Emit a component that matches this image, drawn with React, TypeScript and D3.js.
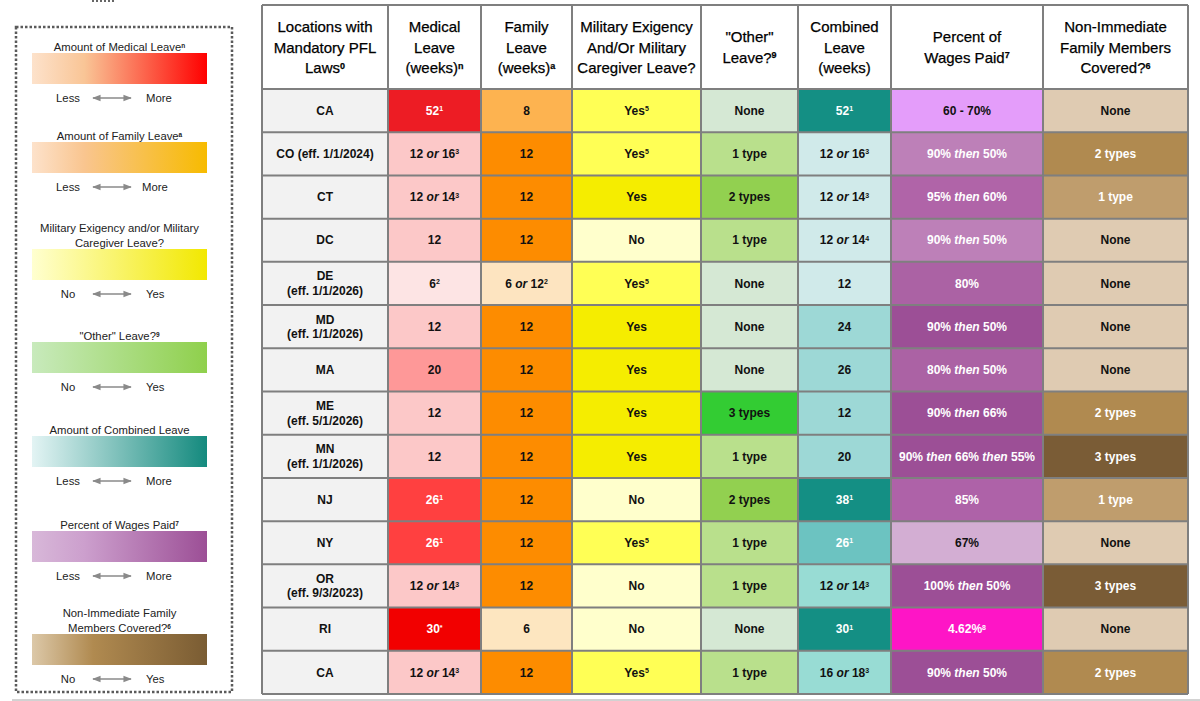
import React from "react";
import * as d3 from "d3";

// ---------- DATA ----------
const locations = [
  "CA", "CO (eff. 1/1/2024)", "CT", "DC", "DE|(eff. 1/1/2026)", "MD|(eff. 1/1/2026)", "MA",
  "ME|(eff. 5/1/2026)", "MN|(eff. 1/1/2026)", "NJ", "NY", "OR|(eff. 9/3/2023)", "RI", "CA",
];
const medicalLeave = [
  "52^1", "12 _or_ 16^3", "12 _or_ 14^3", "12", "6^2", "12", "20", "12", "12", "26^1", "26^1",
  "12 _or_ 14^3", "30^*", "12 _or_ 14^3",
];
const familyLeave = ["8", "12", "12", "12", "6 _or_ 12^2", "12", "12", "12", "12", "12", "12", "12", "6", "12"];
const militaryLeave = ["Yes^5", "Yes^5", "Yes", "No", "Yes^5", "Yes", "Yes", "Yes", "Yes", "No", "Yes^5", "No", "No", "Yes^5"];
const otherLeave = ["None", "1 type", "2 types", "1 type", "None", "None", "None", "3 types", "1 type", "2 types", "1 type", "1 type", "None", "1 type"];
const combinedLeave = [
  "52^1", "12 _or_ 16^3", "12 _or_ 14^3", "12 _or_ 14^4", "12", "24", "26", "12", "20", "38^1", "26^1",
  "12 _or_ 14^3", "30^1", "16 _or_ 18^3",
];
const wagesPaid = [
  "60 - 70%", "90% _then_ 50%", "95% _then_ 60%", "90% _then_ 50%", "80%", "90% _then_ 50%", "80% _then_ 50%",
  "90% _then_ 66%", "90% _then_ 66% _then_ 55%", "85%", "67%", "100% _then_ 50%", "4.62%^8", "90% _then_ 50%",
];
const nonImmediate = ["None", "2 types", "1 type", "None", "None", "None", "None", "2 types", "3 types", "1 type", "None", "3 types", "None", "2 types"];

const headerLabels = [
  ["Locations with", "Mandatory PFL", "Laws^0"],
  ["Medical", "Leave", "(weeks)^n"],
  ["Family", "Leave", "(weeks)^a"],
  ["Military Exigency", "And/Or Military", "Caregiver Leave?"],
  ["\"Other\"", "Leave?^9"],
  ["Combined", "Leave", "(weeks)"],
  ["Percent of", "Wages Paid^7"],
  ["Non-Immediate", "Family Members", "Covered?^6"],
];

// ---------- STYLES ----------
const medicalFill = ["#ed1c24", "#fcc8c8", "#fcc8c8", "#fcc8c8", "#fde4e4", "#fcc8c8", "#fe9898", "#fcc8c8", "#fcc8c8", "#ff4040", "#ff4040", "#fcc8c8", "#f20000", "#fcc8c8"];
const familyFill = ["#fdb350", "#fd8c00", "#fd8c00", "#fd8c00", "#fde4c0", "#fd8c00", "#fd8c00", "#fd8c00", "#fd8c00", "#fd8c00", "#fd8c00", "#fd8c00", "#fde6c0", "#fd8c00"];
const combinedFill = ["#148f84", "#d0eaea", "#d0eaea", "#d0eaea", "#d0eaea", "#9dd8d6", "#9dd8d6", "#9dd8d6", "#9dd8d6", "#148f84", "#6cc3c1", "#98dcd4", "#148f84", "#98dcd4"];
const wagesFill = ["#e49dfa", "#bd80b8", "#b064a8", "#bd80b8", "#ab62a4", "#9c4f96", "#ab62a4", "#9c4f96", "#9c4f96", "#ae62a8", "#d3aed3", "#9c4f96", "#fe15c6", "#9c4f96"];
const militaryColor = d3.scaleOrdinal<string, string>().domain(["Yes^5", "Yes", "No"]).range(["#ffff55", "#f5ed00", "#ffffcc"]);
const otherColor = d3.scaleOrdinal<string, string>().domain(["None", "1 type", "2 types", "3 types"]).range(["#d5e8d4", "#b9e08c", "#92d050", "#33cc33"]);
const nonImmColor = d3.scaleOrdinal<string, string>().domain(["None", "1 type", "2 types", "3 types"]).range(["#dfcbb2", "#bf9d6d", "#b08a50", "#7a5c36"]);
const whiteInk = new Set(["#ed1c24", "#ff4040", "#f20000", "#148f84", "#6cc3c1", "#bd80b8", "#b064a8", "#ab62a4", "#9c4f96", "#ae62a8", "#fe15c6", "#bf9d6d", "#b08a50", "#7a5c36"]);

const FONT = "'Liberation Sans', Arial, Helvetica, sans-serif";
const colEdges = [262, 388, 481, 572, 701, 798, 891, 1043, 1188];
const tableTop = 5;
const headerBottom = 89;
const tableBottom = 694;
const GRID = "#7f7f7f";

const legendItems = [
  { title: ["Amount of Medical Leave^n"], left: "Less", right: "More", stops: [[0, "#fde2cb"], [0.3, "#f9c596"], [1, "#ff0000"]] },
  { title: ["Amount of Family Leave^a"], left: "Less", right: "More", stops: [[0, "#fde2cb"], [0.3, "#f9c58f"], [1, "#f7bb00"]] },
  { title: ["Military Exigency and/or Military", "Caregiver Leave?"], left: "No", right: "Yes", stops: [[0, "#ffffd0"], [1, "#f2e800"]] },
  { title: ["\"Other\" Leave?^9"], left: "No", right: "Yes", stops: [[0, "#c8eabc"], [1, "#8fd04c"]] },
  { title: ["Amount of Combined Leave"], left: "Less", right: "More", stops: [[0, "#e3f4f4"], [1, "#148a7e"]] },
  { title: ["Percent of Wages Paid^7"], left: "Less", right: "More", stops: [[0, "#d8b8d9"], [0.3, "#cc9fcd"], [1, "#9c4f96"]] },
  { title: ["Non-Immediate Family", "Members Covered?^6"], left: "No", right: "Yes", stops: [[0, "#dcc8a8"], [0.35, "#b08a50"], [1, "#7a5c33"]] },
];
const legendBarTops = [53, 142, 249, 342, 436, 531, 634];

function rich(str: string, supSize: number, base: number, supBold = false) {
  const parts = str.split(/(_[^_]+_|\^\S+)/).filter((s) => s !== "");
  let shifted = 0;
  return parts.map((p, i) => {
    if (p.startsWith("^")) {
      const dy = -base * 0.3;
      shifted += dy;
      return (
        <tspan key={i} fontSize={supSize} dy={dy} fontWeight={supBold ? "bold" : undefined}>
          {p.slice(1)}
        </tspan>
      );
    }
    const reset = shifted !== 0 ? -shifted : undefined;
    shifted = 0;
    if (p.startsWith("_") && p.endsWith("_") && p.length > 2) {
      return (
        <tspan key={i} fontStyle="italic" dy={reset}>
          {p.slice(1, -1)}
        </tspan>
      );
    }
    return (
      <tspan key={i} dy={reset}>
        {p}
      </tspan>
    );
  });
}

export default function App() {
  const rowScale = d3.scaleBand<number>().domain(d3.range(locations.length)).range([headerBottom, tableBottom]);
  const rh = rowScale.bandwidth();

  const columns = [
    { values: locations, fill: () => "#f2f2f2" },
    { values: medicalLeave, fill: (_v: string, i: number) => medicalFill[i] },
    { values: familyLeave, fill: (_v: string, i: number) => familyFill[i] },
    { values: militaryLeave, fill: (v: string) => militaryColor(v) },
    { values: otherLeave, fill: (v: string) => otherColor(v) },
    { values: combinedLeave, fill: (_v: string, i: number) => combinedFill[i] },
    { values: wagesPaid, fill: (_v: string, i: number) => wagesFill[i] },
    { values: nonImmediate, fill: (v: string) => nonImmColor(v) },
  ];

  const legX0 = 32;
  const legX1 = 207;
  const legCx = 119.5;

  return (
    <svg width={1200} height={701} style={{ position: "absolute", left: 0, top: 0, background: "#fff" }} fontFamily={FONT}>
      <defs>
        {legendItems.map((it, k) => (
          <linearGradient key={k} id={`lg${k}`} x1="0" x2="1" y1="0" y2="0">
            {it.stops.map((s, j) => (
              <stop key={j} offset={s[0] as number} stopColor={s[1] as string} />
            ))}
          </linearGradient>
        ))}
        <marker id="ah" viewBox="0 0 10 10" refX="9" refY="5" markerWidth="7" markerHeight="6" orient="auto-start-reverse">
          <path d="M0,1 L10,5 L0,9 z" fill="#8a8a8a" />
        </marker>
      </defs>

      {/* top dotted fragment */}
      <line x1={92} x2={114} y1={1} y2={1} stroke="#666" strokeWidth={2} strokeDasharray="2 2" />

      {/* Legend box */}
      <rect x={16} y={27} width={216} height={665} fill="none" stroke="#5a5a5a" strokeWidth={2.5} strokeDasharray="2.5 2" />
      {legendItems.map((it, k) => {
        const top = legendBarTops[k];
        const nLines = it.title.length;
        const labY = top + 31 + 14;
        return (
          <g key={k}>
            {it.title.map((t, j) => (
              <text key={j} x={legCx} y={top - 6 - (nLines - 1 - j) * 15 + 4} textAnchor="middle" fontSize={11.3} fill="#222">
                {rich(t, 6.5, 11.3, true)}
              </text>
            ))}
            <rect x={legX0} y={top} width={legX1 - legX0} height={31} fill={`url(#lg${k})`} />
            <text x={68} y={labY + 4} textAnchor="middle" fontSize={11.3} fill="#222">
              {it.left}
            </text>
            <line x1={93} x2={131} y1={labY} y2={labY} stroke="#8a8a8a" strokeWidth={1.4} markerStart="url(#ah)" markerEnd="url(#ah)" />
            <text x={k === 1 ? 142 : 146} y={labY + 4} textAnchor="start" fontSize={11.3} fill="#222">
              {it.right}
            </text>
          </g>
        );
      })}

      {/* Table header */}
      <rect x={colEdges[0]} y={tableTop} width={colEdges[8] - colEdges[0]} height={headerBottom - tableTop} fill="#fff" />
      {headerLabels.map((lines, c) => {
        const cx = (colEdges[c] + colEdges[c + 1]) / 2;
        const cy = (tableTop + headerBottom) / 2;
        const lh = 20.5;
        return lines.map((ln, j) => (
          <text key={`${c}-${j}`} x={cx} y={cy + (j - (lines.length - 1) / 2) * lh + 5.5} textAnchor="middle" fontSize={15} fill="#000" stroke="#000" strokeWidth={0.25}>
            {rich(ln, 9, 15, true)}
          </text>
        ));
      })}

      {/* Table body */}
      {columns.map((col, c) =>
        col.values.map((v, i) => {
          const y = rowScale(i) as number;
          const fill = col.fill(v, i);
          const ink = whiteInk.has(fill) ? "#fff" : "#111";
          const cx = (colEdges[c] + colEdges[c + 1]) / 2;
          const cy = y + rh / 2;
          const lines = v.split("|");
          return (
            <g key={`${c}-${i}`}>
              <rect x={colEdges[c]} y={y} width={colEdges[c + 1] - colEdges[c]} height={rh} fill={fill} />
              {lines.map((ln, j) => (
                <text
                  key={j}
                  x={cx}
                  y={cy + (j - (lines.length - 1) / 2) * 14.5 + 4.2}
                  textAnchor="middle"
                  fontSize={12}
                  fontWeight="bold"
                  fill={ink}
                >
                  {rich(ln, 7, 12)}
                </text>
              ))}
            </g>
          );
        })
      )}

      {/* Grid lines */}
      {colEdges.map((x, k) => (
        <line key={`v${k}`} x1={x} x2={x} y1={tableTop} y2={tableBottom} stroke={GRID} strokeWidth={2} />
      ))}
      {[tableTop, ...d3.range(locations.length).map((i) => rowScale(i) as number), tableBottom].map((y, k) => (
        <line key={`h${k}`} x1={colEdges[0]} x2={colEdges[8]} y1={y} y2={y} stroke={GRID} strokeWidth={2} />
      ))}

      {/* bottom rule */}
      <line x1={12} x2={1200} y1={700} y2={700} stroke="#a6a6a6" strokeWidth={1} />
    </svg>
  );
}
